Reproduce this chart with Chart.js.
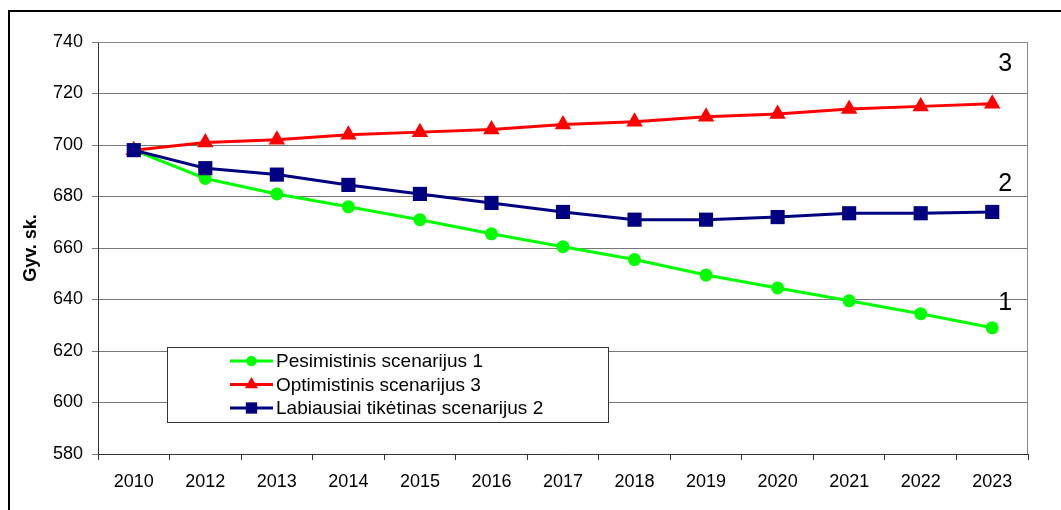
<!DOCTYPE html>
<html>
<head>
<meta charset="utf-8">
<script src="https://cdn.jsdelivr.net/npm/chart.js@4.4.1/dist/chart.umd.min.js"></script>
<style>
  html, body { margin: 0; padding: 0; background: #fff; overflow: hidden; }
  #wrap { position: relative; width: 1061px; height: 510px; }
  #frame { position: absolute; left: 8px; top: 10px; width: 1200px; height: 700px; border: 2px solid #000; }
  canvas { position: absolute; left: 0; top: 0; }
</style>
</head>
<body>
<div id="wrap">
  <div id="frame"></div>
  <canvas id="chart" width="1061" height="510"></canvas>
</div>
<script>
const years = ['2010', '2012', '2013', '2014', '2015', '2016', '2017', '2018', '2019', '2020', '2021', '2022', '2023'];
const pesimistinis = [698, 687, 681, 676, 671, 665.5, 660.5, 655.5, 649.5, 644.5, 639.5, 634.5, 629];
const optimistinis = [698, 701, 702, 704, 705, 706, 708, 709, 711, 712, 714, 715, 716];
const labiausiai   = [698, 691, 688.5, 684.5, 681, 677.5, 674, 671, 671, 672, 673.5, 673.5, 674];
const seriesNames  = ['Pesimistinis scenarijus 1', 'Optimistinis scenarijus 3', 'Labiausiai tikėtinas scenarijus 2'];
const endLabels    = ['1', '2', '3'];
const endLabelVals = [638.5, 685, 731.5];

const FONT = 'Liberation Sans, Arial, sans-serif';

// Excel-style legend box inside the plot
const boxLegend = {
  id: 'boxLegend',
  afterDraw(chart) {
    const ctx = chart.ctx;
    ctx.save();
    ctx.fillStyle = '#fff';
    ctx.fillRect(167, 347, 441, 75);
    ctx.strokeStyle = '#333';
    ctx.lineWidth = 1;
    ctx.strokeRect(167.5, 347.5, 441, 75);
    chart.data.datasets.forEach((ds, i) => {
      const y = 361 + i * 23.5;
      ctx.strokeStyle = ds.borderColor;
      ctx.lineWidth = 3;
      ctx.beginPath();
      ctx.moveTo(230, y);
      ctx.lineTo(273, y);
      ctx.stroke();
      ctx.fillStyle = ds.borderColor;
      Chart.helpers.drawPoint(ctx, { pointStyle: ds.pointStyle, radius: ds.pointRadius * 0.8, borderWidth: 0 }, 251.5, y);
      ctx.fillStyle = '#000';
      ctx.font = '19px ' + FONT;
      ctx.textAlign = 'left';
      ctx.textBaseline = 'middle';
      ctx.fillText(ds.label, 276, y + 1);
    });
    ctx.restore();
  }
};

// plot frame + scenario numbers at the right
const plotDeco = {
  id: 'plotDeco',
  beforeDatasetsDraw(chart) {
    const { ctx, chartArea: a } = chart;
    ctx.save();
    ctx.strokeStyle = '#888';
    ctx.lineWidth = 1;
    ctx.beginPath();
    ctx.moveTo(a.left, a.top + 0.5);
    ctx.lineTo(a.right - 0.5, a.top + 0.5);
    ctx.lineTo(a.right - 0.5, a.bottom);
    ctx.stroke();
    ctx.restore();
  },
  afterDraw(chart) {
    const { ctx, scales } = chart;
    ctx.save();
    ctx.fillStyle = '#000';
    ctx.font = '25px ' + FONT;
    ctx.textAlign = 'center';
    ctx.textBaseline = 'middle';
    const x = scales.x.getPixelForValue(years.length - 1) + 13;
    endLabels.forEach((t, i) => ctx.fillText(t, x, scales.y.getPixelForValue(endLabelVals[i])));
    ctx.restore();
  }
};

new Chart(document.getElementById('chart'), {
  type: 'line',
  data: {
    labels: years,
    datasets: [
      { label: seriesNames[0], data: pesimistinis, borderColor: '#00FF00', backgroundColor: '#00FF00',
        pointStyle: 'circle', pointRadius: 6.5, borderWidth: 3, pointBorderWidth: 0, order: 3 },
      { label: seriesNames[1], data: optimistinis, borderColor: '#FF0000', backgroundColor: '#FF0000',
        pointStyle: 'triangle', pointRadius: 9.5, borderWidth: 3, pointBorderWidth: 0, order: 2 },
      { label: seriesNames[2], data: labiausiai, borderColor: '#000080', backgroundColor: '#000080',
        pointStyle: 'rect', pointRadius: 10, borderWidth: 3, pointBorderWidth: 0, order: 1 }
    ]
  },
  options: {
    responsive: false,
    animation: false,
    layout: { padding: { top: 42, right: 33, left: 0, bottom: 0 } },
    plugins: { legend: { display: false }, tooltip: { enabled: false } },
    elements: { line: { tension: 0 } },
    scales: {
      x: {
        offset: true,
        grid: { offset: true, drawOnChartArea: false, drawTicks: true, tickLength: 6, color: '#333' },
        border: { color: '#333', width: 1 },
        ticks: { color: '#000', font: { family: FONT, size: 18 }, padding: 11, maxRotation: 0, autoSkip: false },
        afterFit(s) { s.height = 56; }
      },
      y: {
        min: 580, max: 740,
        grid: { color: '#777', tickLength: 6, drawTicks: true },
        border: { color: '#333', width: 1 },
        ticks: { stepSize: 20, color: '#000', font: { family: FONT, size: 18 }, padding: 9 },
        title: { display: true, text: 'Gyv. sk.', color: '#000',
          font: { family: FONT, size: 18, weight: 'bold' }, padding: { top: 20, bottom: 0 } },
        afterFit(s) { s.width = 98; }
      }
    }
  },
  plugins: [plotDeco, boxLegend]
});
</script>
</body>
</html>
